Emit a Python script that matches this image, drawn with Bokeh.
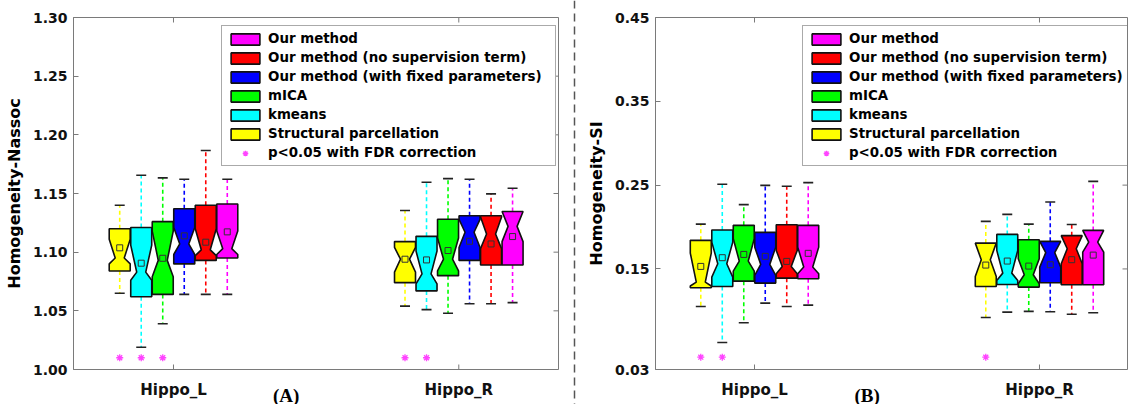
from bokeh.plotting import figure
from bokeh.models import (Range1d, FixedTicker, Legend, LegendItem, Span,
                          NumeralTickFormatter)
from bokeh.layouts import row, column
from bokeh.embed import file_html
from bokeh.resources import INLINE
from bokeh.core.properties import value

regions = ["Hippo_L", "Hippo_R"]
# drawing order left-to-right inside each region
methods = ["Structural parcellation", "kmeans", "mICA",
           "Our method (with fixed parameters)",
           "Our method (no supervision term)", "Our method"]
colors = ["#FFFF00", "#00FFFF", "#00FF00", "#0000FF", "#FF0000", "#FF00FF"]
legend_order = [5, 4, 3, 2, 1, 0]
sig_label = "p<0.05 with FDR correction"
panel_labels = ["(A)", "(B)"]

# ---- Homogeneity-Nassoc : per method [Hippo_L, Hippo_R]
nassoc_wlo = [[1.065, 1.054], [1.019, 1.051], [1.039, 1.048], [1.064, 1.056], [1.064, 1.056], [1.064, 1.057]]
nassoc_q1 = [[1.084, 1.074], [1.062, 1.067], [1.064, 1.080], [1.090, 1.093], [1.093, 1.089], [1.095, 1.089]]
nassoc_nlo = [[1.090, 1.083], [1.076, 1.073], [1.079, 1.084], [1.098, 1.104], [1.097, 1.103], [1.098, 1.109]]
nassoc_med = [[1.095, 1.094], [1.083, 1.0815], [1.093, 1.094], [1.107, 1.117], [1.102, 1.1155], [1.103, 1.122]]
nassoc_nhi = [[1.111, 1.104], [1.106, 1.101], [1.118, 1.112], [1.121, 1.128], [1.120, 1.130], [1.118, 1.1346]]
nassoc_q3 = [[1.120, 1.109], [1.121, 1.1135], [1.126, 1.128], [1.137, 1.131], [1.140, 1.131], [1.141, 1.1346]]
nassoc_whi = [[1.140, 1.1355], [1.1656, 1.1596], [1.1633, 1.1627], [1.1622, 1.1622], [1.1866, 1.1497], [1.1622, 1.1545]]
nassoc_mean = [[1.1037, 1.094], [1.0906, 1.0934], [1.0948, 1.1014], [1.1139, 1.1093], [1.1085, 1.107], [1.1173, 1.1133]]
nassoc_sig = [[1, 1], [1, 1], [1, 0], [0, 0], [0, 0], [0, 0]]
nassoc_ticks = [1.00, 1.05, 1.10, 1.15, 1.20, 1.25, 1.30]

# ---- Homogeneity-SI : per method [Hippo_L, Hippo_R]
si_wlo = [[0.1052, 0.0921], [0.0622, 0.0984], [0.0858, 0.0993], [0.1092, 0.0989], [0.1052, 0.0960], [0.1068, 0.0977]]
si_q1 = [[0.1276, 0.1291], [0.1291, 0.1315], [0.1354, 0.1283], [0.1331, 0.1335], [0.1390, 0.1311], [0.1383, 0.1311]]
si_nlo = [[0.1296, 0.1410], [0.1402, 0.1363], [0.1474, 0.1323], [0.1423, 0.1522], [0.1443, 0.1562], [0.1443, 0.1700]]
si_med = [[0.1343, 0.1610], [0.1562, 0.1450], [0.1594, 0.1431], [0.1554, 0.1694], [0.1530, 0.1741], [0.1522, 0.1820]]
si_nhi = [[0.1689, 0.1808], [0.1820, 0.1721], [0.1861, 0.1622], [0.1760, 0.1829], [0.1721, 0.1897], [0.1760, 0.1960]]
si_q3 = [[0.1841, 0.1808], [0.1964, 0.1912], [0.2020, 0.1849], [0.1936, 0.1829], [0.2028, 0.1897], [0.2020, 0.1960]]
si_whi = [[0.2035, 0.2067], [0.2510, 0.2151], [0.2267, 0.2035], [0.2497, 0.2298], [0.2486, 0.2031], [0.2530, 0.2545]]
si_mean = [[0.1530, 0.1546], [0.1634, 0.1594], [0.1673, 0.1534], [0.1650, 0.1550], [0.1590, 0.1610], [0.1686, 0.1665]]
si_sig = [[1, 1], [1, 0], [0, 0], [0, 0], [0, 0], [0, 0]]
si_ticks = [0.03, 0.15, 0.25, 0.35, 0.45]

FONT = "DejaVu Sans"
STEP = 0.0754
HW = 0.0368
INSET = 0.021
CAP = 0.0175
FRAME_COL = "#7a7a7a"
MAIN_H = 377
BOT_H = 27
TICK_PX = 5


def make_panel(width, mbl, mbr, xr, ylab, ticks, wlo, q1, nlo, med, nhi, q3, whi, mean, sig,
               sig_y, panel_label, leg_loc, label_width):
    xrange = Range1d(*xr)
    p = figure(width=width, height=MAIN_H, output_backend="svg", toolbar_location=None,
               x_range=xrange, y_range=Range1d(ticks[0], ticks[-1]),
               min_border_left=mbl, min_border_right=mbr, min_border_top=17,
               min_border_bottom=8, x_axis_location=None)
    p.grid.visible = False
    p.outline_line_color = FRAME_COL
    p.outline_line_width = 1
    p.background_fill_color = "white"
    p.border_fill_color = "white"

    frame_w = width - mbl - mbr
    frame_h = MAIN_H - 17 - 8
    dx = TICK_PX * (xr[1] - xr[0]) / frame_w
    dy = TICK_PX * (ticks[-1] - ticks[0]) / frame_h
    cats = [r + 1 for r in range(len(regions))]
    # inside tick marks (bottom, top, right), as in a boxed MATLAB axes
    p.segment(x0=cats + cats, y0=[ticks[0]] * len(cats) + [ticks[-1]] * len(cats),
              x1=cats + cats, y1=[ticks[0] + dy] * len(cats) + [ticks[-1] - dy] * len(cats),
              line_color=FRAME_COL, line_width=1)
    p.segment(x0=[xr[1]] * len(ticks), y0=ticks, x1=[xr[1] - dx] * len(ticks), y1=ticks,
              line_color=FRAME_COL, line_width=1)

    renderers = []
    for j in range(len(methods)):
        xs_list, ys_list = [], []
        wx, wy0, wy1 = [], [], []
        cx0, cx1, cy = [], [], []
        mx, my = [], []
        for r in range(len(regions)):
            c = cats[r] + (j - 2.5) * STEP
            L, R = c - HW, c + HW
            xs_list.append([L, R, R, R - INSET, R, R, L, L, L + INSET, L])
            ys_list.append([q3[j][r], q3[j][r], nhi[j][r], med[j][r], nlo[j][r],
                            q1[j][r], q1[j][r], nlo[j][r], med[j][r], nhi[j][r]])
            wx += [c, c]
            wy0 += [q3[j][r], q1[j][r]]
            wy1 += [whi[j][r], wlo[j][r]]
            cx0 += [c - CAP, c - CAP]
            cx1 += [c + CAP, c + CAP]
            cy += [whi[j][r], wlo[j][r]]
            mx.append(c)
            my.append(mean[j][r])
        p.segment(x0=wx, y0=wy0, x1=wx, y1=wy1, line_color=colors[j],
                  line_width=1.6, line_dash="4 3")
        p.segment(x0=cx0, y0=cy, x1=cx1, y1=cy, line_color="#222222", line_width=1.6)
        pr = p.patches(xs=xs_list, ys=ys_list, fill_color=colors[j], line_color="#111111",
                       line_width=1.6)
        p.scatter(x=mx, y=my, marker="square", size=6, fill_color=None,
                  line_color="#333333", line_width=1)
        renderers.append(pr)

    sx, sy = [], []
    for j in range(len(methods)):
        for r in range(len(regions)):
            if sig[j][r]:
                sx.append(cats[r] + (j - 2.5) * STEP)
                sy.append(sig_y)
    sr = p.scatter(x=sx, y=sy, marker="asterisk", size=7, line_color="#FF44FF",
                   line_width=1.3)

    items = [LegendItem(label=methods[k], renderers=[renderers[k]]) for k in legend_order]
    items.append(LegendItem(label=sig_label, renderers=[sr]))
    leg = Legend(items=items, location=leg_loc, glyph_width=36, glyph_height=14,
                 label_height=14, label_width=label_width, spacing=4, padding=5,
                 margin=0, label_standoff=5,
                 label_text_font=FONT, label_text_font_style="bold",
                 label_text_font_size="13.4px", label_text_color="#000000",
                 border_line_color="#555555", border_line_width=1,
                 background_fill_color="white", background_fill_alpha=1.0)
    p.add_layout(leg, "center")

    ya = p.yaxis[0]
    ya.ticker = FixedTicker(ticks=ticks)
    ya.formatter = NumeralTickFormatter(format="0.00")
    ya.major_label_text_font = FONT
    ya.major_label_text_font_style = "bold"
    ya.major_label_text_font_size = "14px"
    ya.major_label_text_color = "#111111"
    ya.major_label_standoff = 6
    ya.major_tick_in = 5
    ya.major_tick_out = 0
    ya.minor_tick_line_color = None
    ya.axis_line_color = FRAME_COL
    ya.major_tick_line_color = FRAME_COL
    ya.axis_label = ylab
    ya.axis_label_text_font = FONT
    ya.axis_label_text_font_style = "bold"
    ya.axis_label_text_font_size = "16px"
    ya.axis_label_text_color = "#000000"
    ya.axis_label_standoff = 6

    # strip under the frame: category names and panel letter
    b = figure(width=width, height=BOT_H, output_backend="svg", toolbar_location=None,
               x_range=xrange, y_range=Range1d(0, BOT_H),
               min_border_left=mbl, min_border_right=mbr, min_border_top=0,
               min_border_bottom=0, x_axis_location=None, y_axis_location=None)
    b.grid.visible = False
    b.outline_line_color = None
    b.text(x=cats, y=[BOT_H - 12] * len(cats), text=regions,
           text_font=value(FONT), text_font_style="bold", text_font_size=value("15px"),
           text_align="center", text_baseline="middle", text_color="#111111")
    b.text(x=[1.395], y=[BOT_H - 17.5], text=[panel_label],
           text_font=value("Liberation Serif"), text_font_style="bold",
           text_font_size=value("19px"), text_align="center", text_baseline="middle",
           text_color="#000000")
    return column(p, b, spacing=0)


left = make_panel(568, 73, 10, (0.6495, 2.3495), "Homogeneity-Nassoc", nassoc_ticks,
                  nassoc_wlo, nassoc_q1, nassoc_nlo, nassoc_med, nassoc_nhi, nassoc_q3,
                  nassoc_whi, nassoc_mean, nassoc_sig, 1.01, panel_labels[0], (148, 203), 282)
right = make_panel(548, 75, 1, (0.6526, 2.3088), "Homogeneity-SI", si_ticks,
                   si_wlo, si_q1, si_nlo, si_med, si_nhi, si_q3,
                   si_whi, si_mean, si_sig, 0.0447, panel_labels[1], (147, 203), 273)

sep = figure(width=12, height=MAIN_H + BOT_H, output_backend="svg", toolbar_location=None,
             x_range=Range1d(0, 1), y_range=Range1d(0, 1), min_border=0,
             x_axis_location=None, y_axis_location=None)
sep.grid.visible = False
sep.outline_line_color = None
sep.add_layout(Span(location=0.5, dimension="height", line_color="#555555",
                    line_width=1.5, line_dash="8 5"))

layout = row(left, sep, right, spacing=0)
open("out.html", "w").write(file_html(layout, INLINE))
